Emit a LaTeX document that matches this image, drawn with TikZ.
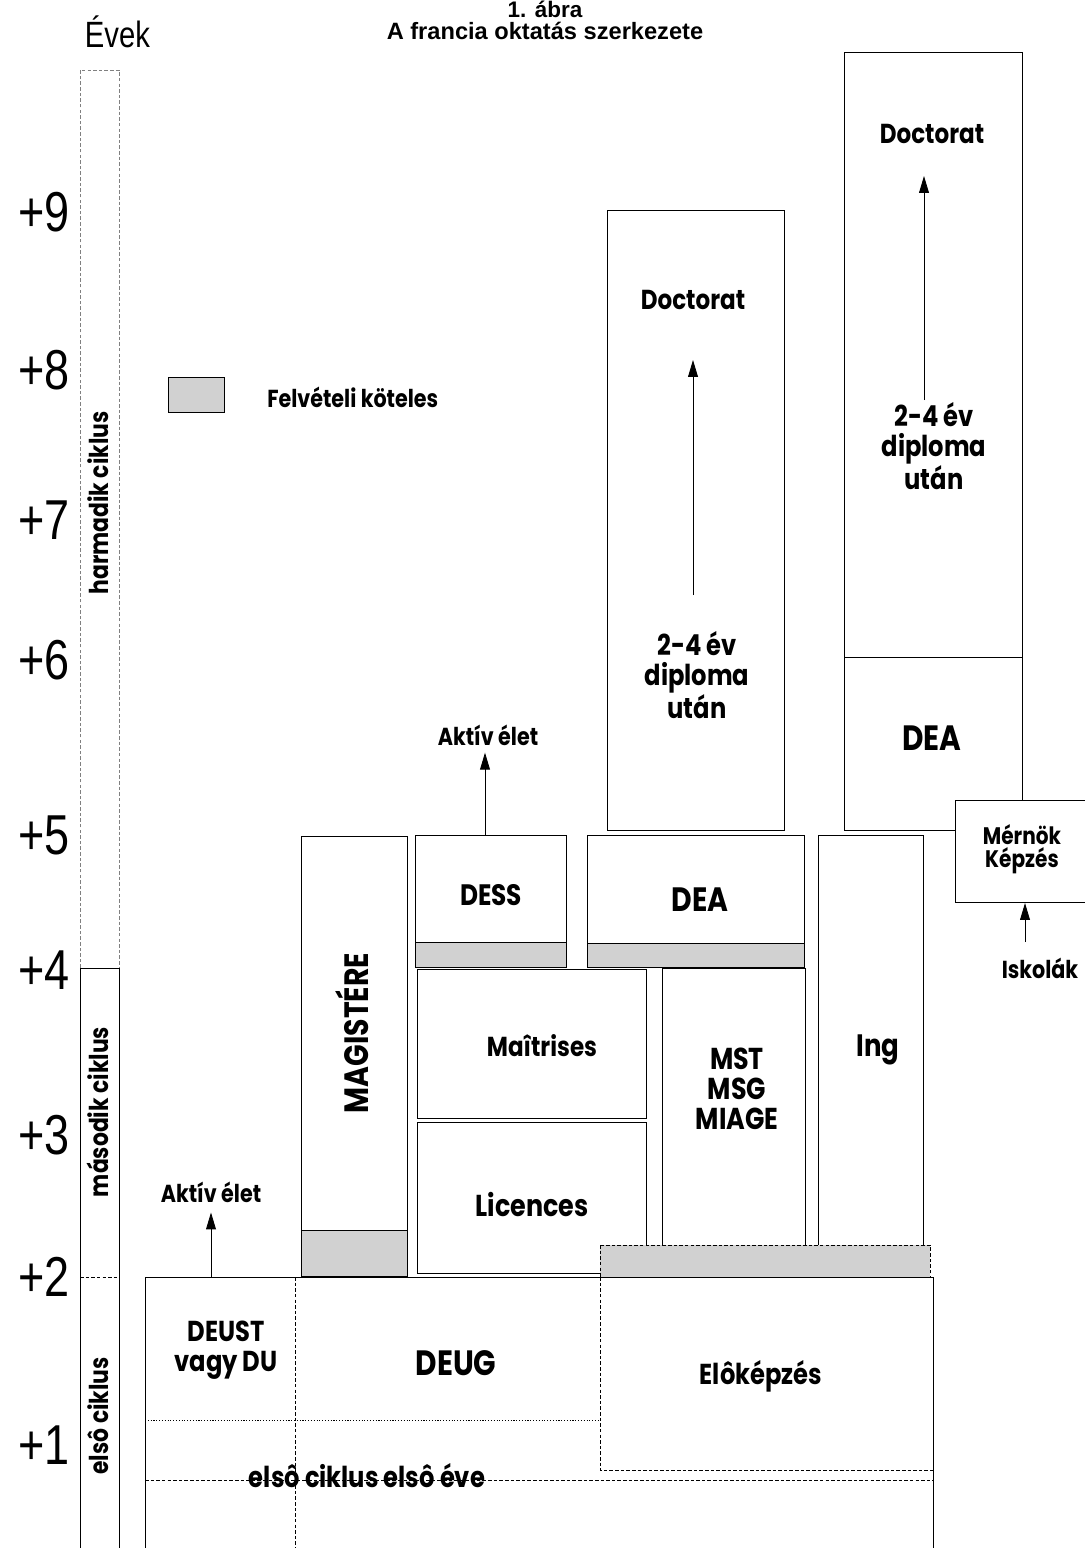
\documentclass[tikz,border=0pt]{standalone}
\usepackage{fontspec}
\setmainfont{Liberation Sans}
\newfontfamily\gothic{Poppins}[FakeStretch=0.84]
\newfontfamily\yearfont{Liberation Sans}[FakeStretch=0.8]
\usetikzlibrary{arrows.meta}

\begin{document}
\begin{tikzpicture}[
    x=0.025cm, y=-0.025cm,
    >={Triangle[length=12pt, width=7pt]},
    box/.style={draw, line width=0.6pt},
    dbox/.style={draw, line width=0.5pt, dash pattern=on 2.5pt off 1.5pt},
    dotline/.style={draw, line width=0.5pt, dash pattern=on 0.8pt off 1.2pt},
    stipple/.style={draw, line width=0.6pt, fill=black!18},
    lblbig/.style={font=\gothic\bfseries\fontsize{24}{26}\selectfont, align=center, inner sep=0pt},
    lblmid/.style={font=\gothic\bfseries\fontsize{20.5}{21}\selectfont, align=center, inner sep=0pt},
    lblsmall/.style={font=\gothic\bfseries\fontsize{17.5}{19}\selectfont, align=center, inner sep=0pt},
    lblxs/.style={font=\gothic\bfseries\fontsize{17}{16}\selectfont, align=center, inner sep=0pt},
    year/.style={font=\yearfont\fontsize{40}{40}\selectfont, inner sep=0pt},
    cycle/.style={font=\gothic\bfseries\fontsize{18.5}{18.5}\selectfont, rotate=90, inner sep=0pt},
]
  \useasboundingbox[fill=white] (0,0) rectangle (1085,1548);

  % cim
  \node[font=\bfseries\fontsize{16}{16}\selectfont] (abra) at (545,9) {1. ábra};
  \node[font=\bfseries\fontsize{16.8}{16.8}\selectfont] (cim) at (545,31) {A francia oktatás szerkezete};
  \node[font=\yearfont\fontsize{26}{26}\selectfont, anchor=west] (evek) at (80,32) {Évek};

  % evek tengely
  \foreach \n/\y in {9/212, 8/370, 7/520, 6/660, 5/835, 4/970, 3/1135, 2/1277, 1/1445}
    \node[year, anchor=east] (y\n) at (70,\y) {+\n};
  \draw[dbox, gray] (80,968) -- (80,70) -- (119,70) -- (119,968);
  \draw[box] (80,1548) -- (80,968) -- (119,968) -- (119,1548);
  \draw[dbox] (80,1277) -- (119,1277);
  \node[cycle] (harm) at (98,503) {harmadik ciklus};
  \node[cycle] (masod) at (98,1112) {második ciklus};
  \node[cycle] (elso) at (98,1416) {elsô ciklus};

  % jelmagyarazat
  \draw[stipple] (168,377) rectangle (224,412);
  \node[lblsmall, anchor=west] (felv) at (267,397) {Felvételi köteles};

  % elso ciklus
  \draw[box] (145,1548) -- (145,1277) -- (933,1277) -- (933,1548);
  \draw[dbox] (295,1277) -- (295,1548);
  \draw[dbox] (600,1277) -- (600,1470) -- (933,1470);
  \draw[dotline] (145,1420) -- (600,1420);
  \draw[dbox] (145,1480) -- (933,1480);

  % dobozok
  \foreach \xa/\ya/\xb/\yb in {301/836/407/1230, 415/835/566/942, 587/835/804/943,
      417/969/646/1118, 417/1122/646/1273, 662/968/805/1245, 818/835/923/1245,
      607/210/784/830, 844/52/1022/830}
    \draw[box] (\xa,\ya) rectangle (\xb,\yb);
  \draw[box] (844,657) -- (1022,657);
  \draw[box, fill=white] (1085,800) -- (955,800) -- (955,902) -- (1085,902);

  % felveteli savok
  \foreach \xa/\ya/\xb/\yb in {301/1230/407/1276, 415/942/566/967, 587/943/804/967}
    \draw[stipple] (\xa,\ya) rectangle (\xb,\yb);
  \draw[stipple, dash pattern=on 2.5pt off 1.5pt] (600,1245) rectangle (930,1277);

  % feliratok
  \node[lblmid] (deust) at (226,1350) {DEUST\\vagy DU};
  \node[lblbig, font=\gothic\bfseries\fontsize{25}{26}\selectfont] (deug) at (456,1363) {DEUG};
  \node[lblmid] (elokep) at (761,1376) {Elôképzés};
  \node[lblmid] (elsoeve) at (367,1476) {elsô ciklus elsô éve};
  \node[lblbig] (magist) at (352,1033) [rotate=90] {MAGISTÉRE};
  \node[lblmid, font=\gothic\bfseries\fontsize{21}{21}\selectfont] (dess) at (491,895) {DESS};
  \node[lblbig] (dea1) at (700,900) {DEA};
  \node[lblmid, font=\gothic\bfseries\fontsize{19.5}{21}\selectfont] (maitr) at (542,1046) {Maîtrises};
  \node[lblmid, font=\gothic\bfseries\fontsize{21.5}{21}\selectfont] (licen) at (532,1204) {Licences};
  \node[lblbig, font=\gothic\bfseries\fontsize{21.5}{21.5}\selectfont] (miage) at (737,1089) {MST\\MSG\\MIAGE};
  \node[lblbig, font=\gothic\bfseries\fontsize{22}{22}\selectfont] (ing) at (878,1050) {Ing};
  \node[lblmid, font=\gothic\bfseries\fontsize{19.5}{21}\selectfont] (doct1) at (693,300) {Doctorat};
  \node[lblmid] (ev1) at (697,675) {2-4 év\\diploma\\után};
  \node[lblmid, font=\gothic\bfseries\fontsize{19.5}{21}\selectfont] (doct2) at (932,134) {Doctorat};
  \node[lblmid] (ev2) at (934,446) {2-4 év\\diploma\\után};
  \node[lblbig, font=\gothic\bfseries\fontsize{25}{26}\selectfont] (dea2) at (932,738) {DEA};
  \node[lblxs] (mernok) at (1022,849) {Mérnök\\Képzés};
  \node[lblsmall] (iskola) at (1040,968) {Iskolák};
  \node[lblsmall] (aktiv1) at (211,1192) {Aktív élet};
  \node[lblsmall] (aktiv2) at (488,735) {Aktív élet};

  % nyilak
  \coordinate (a1) at (211,1277);
  \coordinate (a2) at (485,835);
  \coordinate (d1s) at (693,595);
  \coordinate (d1e) at (693,360);
  \coordinate (d2s) at (924,400);
  \coordinate (d2e) at (924,176);
  \coordinate (isk) at (1025,942);
  \coordinate (mrn) at (1025,903);
  \draw[->, line width=0.6pt, shorten >=7pt] (a1) -- (a1 |- aktiv1.south);
  \draw[->, line width=0.6pt, shorten >=5pt] (a2) -- (a2 |- aktiv2.south);
  \draw[->, line width=0.6pt] (d1s) -- (d1e);
  \draw[->, line width=0.6pt] (d2s) -- (d2e);
  \draw[->, line width=0.6pt] (isk) -- (mrn);
\end{tikzpicture}
\end{document}
